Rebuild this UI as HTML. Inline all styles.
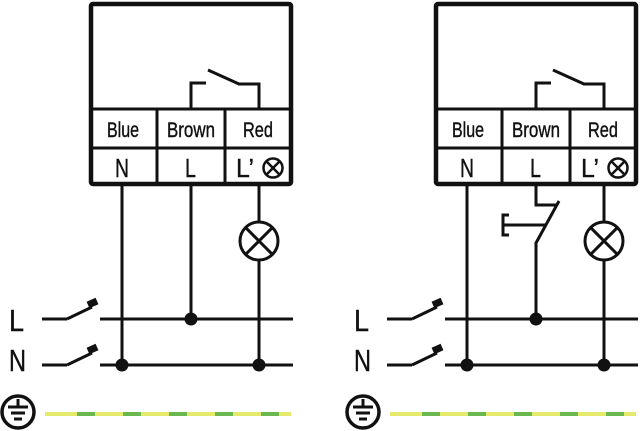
<!DOCTYPE html>
<html><head><style>html,body{margin:0;padding:0;background:#fff;}svg{display:block}</style></head>
<body>
<svg width="640" height="431" viewBox="0 0 640 431" xmlns="http://www.w3.org/2000/svg" font-family="Liberation Sans, sans-serif">
<defs>
<g id="unit" fill="none" stroke="#111">
  <rect x="91" y="4" width="200" height="180" rx="2" stroke-width="4.5"/>
  <line x1="91" y1="109" x2="291" y2="109" stroke-width="3"/>
  <line x1="91" y1="148" x2="291" y2="148" stroke-width="3"/>
  <line x1="157" y1="109" x2="157" y2="184" stroke-width="3"/>
  <line x1="225" y1="109" x2="225" y2="184" stroke-width="3"/>
  <polyline points="191,109 191,83 206,83" stroke-width="3"/>
  <line x1="208" y1="70" x2="239" y2="84" stroke-width="3"/>
  <polyline points="238,84 259,84 259,109" stroke-width="3"/>
  <circle cx="273" cy="168" r="9.5" stroke-width="2.5"/>
  <line x1="266.3" y1="161.3" x2="279.7" y2="174.7" stroke-width="2.5"/>
  <line x1="279.7" y1="161.3" x2="266.3" y2="174.7" stroke-width="2.5"/>
  <g fill="#111" stroke="#111" stroke-width="0.4" font-size="21">
    <text x="107" y="137" textLength="32" lengthAdjust="spacingAndGlyphs">Blue</text>
    <text x="167" y="137" textLength="48" lengthAdjust="spacingAndGlyphs">Brown</text>
    <text x="243" y="137" textLength="30" lengthAdjust="spacingAndGlyphs">Red</text>
  </g>
  <g fill="#111" stroke="#111" stroke-width="0.4" font-size="26">
    <text x="115" y="177" textLength="14" lengthAdjust="spacingAndGlyphs">N</text>
    <text x="185" y="177" textLength="11" lengthAdjust="spacingAndGlyphs">L</text>
    <text x="236" y="177" textLength="18" lengthAdjust="spacingAndGlyphs">L’</text>
  </g>
  <line x1="42" y1="319" x2="67" y2="319" stroke-width="3"/>
  <line x1="67" y1="319" x2="92" y2="307" stroke-width="3"/>
  <line x1="88" y1="305" x2="97" y2="301" stroke-width="7"/>
  <line x1="42" y1="365" x2="67" y2="365" stroke-width="3"/>
  <line x1="67" y1="365" x2="92" y2="353" stroke-width="3"/>
  <line x1="88" y1="351" x2="97" y2="347" stroke-width="7"/>
  <line x1="100" y1="319" x2="293" y2="319" stroke-width="3"/>
  <line x1="100" y1="365" x2="293" y2="365" stroke-width="3"/>
  <line x1="122" y1="186" x2="122" y2="365" stroke-width="3"/>
  <line x1="259" y1="186" x2="259" y2="222" stroke-width="3"/>
  <line x1="259" y1="260" x2="259" y2="365" stroke-width="3"/>
  <circle cx="259" cy="241" r="19" stroke-width="3"/>
  <line x1="245.6" y1="227.6" x2="272.4" y2="254.4" stroke-width="3"/>
  <line x1="272.4" y1="227.6" x2="245.6" y2="254.4" stroke-width="3"/>
  <circle cx="122" cy="365" r="6.5" fill="#111" stroke="none"/>
  <circle cx="259" cy="365" r="6.5" fill="#111" stroke="none"/>
  <g fill="#111" stroke="#111" stroke-width="0.4" font-size="31">
    <text x="9" y="331" textLength="15" lengthAdjust="spacingAndGlyphs">L</text>
    <text x="9" y="371" textLength="17" lengthAdjust="spacingAndGlyphs">N</text>
  </g>
  <circle cx="18" cy="412" r="16" stroke-width="3.5"/>
  <line x1="18" y1="399" x2="18" y2="407" stroke-width="3"/>
  <line x1="8" y1="407" x2="28" y2="407" stroke-width="3"/>
  <line x1="11" y1="413" x2="25" y2="413" stroke-width="3"/>
  <line x1="14" y1="419" x2="22" y2="419" stroke-width="3"/>
  <line x1="45" y1="414" x2="291" y2="414" stroke="#e6ea6a" stroke-width="4"/>
  <g stroke="#6ab84f" stroke-width="4">
    <line x1="77" y1="414" x2="95" y2="414"/>
    <line x1="123" y1="414" x2="141" y2="414"/>
    <line x1="169" y1="414" x2="187" y2="414"/>
    <line x1="215" y1="414" x2="233" y2="414"/>
    <line x1="261" y1="414" x2="279" y2="414"/>
  </g>
</g>
</defs>
<use href="#unit"/>
<g fill="none" stroke="#111" stroke-width="3">
  <line x1="191" y1="186" x2="191" y2="319"/>
</g>
<circle cx="191" cy="319" r="6.5" fill="#111"/>
<use href="#unit" transform="translate(345,0)"/>
<g fill="none" stroke="#111" stroke-width="3">
  <polyline points="536,186 536,205 557,205"/>
  <line x1="559" y1="201" x2="536" y2="243"/>
  <line x1="536" y1="242" x2="536" y2="319"/>
  <line x1="503" y1="225" x2="546" y2="225"/>
  <polyline points="509,215 503,215 503,235 509,235"/>
</g>
<circle cx="536" cy="319" r="6.5" fill="#111"/>
</svg>
</body></html>
